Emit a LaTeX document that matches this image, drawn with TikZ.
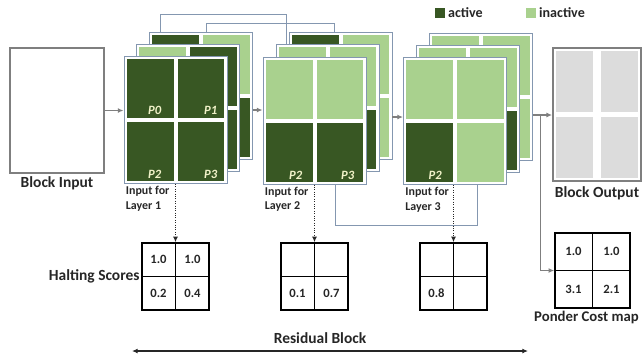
\documentclass[tikz,border=0pt]{standalone}
\usepackage{fontspec}
\setmainfont{Carlito}
\usetikzlibrary{arrows.meta,positioning,calc}
\definecolor{darkg}{HTML}{385723}
\definecolor{lightg}{HTML}{A9D18E}
\definecolor{sheetline}{HTML}{8497B0}
\definecolor{boxline}{HTML}{7F7F7F}
\definecolor{outcell}{HTML}{DCDCDC}
\definecolor{plabel}{HTML}{F0F2C8}
\definecolor{txt}{HTML}{262626}

% one feature-map sheet: name, centre, cell colours TL TR BL BR
\newcommand{\sheet}[6]{%
  \node[sheet] (#1) at (#2) {};
  \fill[#3] ($(#1.north west)+(3,3)$) rectangle ($(#1.center)+(-2,-2)$);
  \fill[#4] ($(#1.north east)+(-3,3)$) rectangle ($(#1.center)+(2,-2)$);
  \fill[#5] ($(#1.south west)+(3,-3)$) rectangle ($(#1.center)+(-2,2)$);
  \fill[#6] ($(#1.south east)+(-3,-3)$) rectangle ($(#1.center)+(2,2)$);
}

\begin{document}
\begin{tikzpicture}[x=0.25mm,y=-0.25mm,>={Latex[length=4pt,width=3.5pt]},
  sheet/.style={draw=sheetline,line width=0.7pt,fill=white,minimum width=25.75mm,minimum height=31.75mm,inner sep=0},
  box/.style={draw=boxline,line width=1.3pt,fill=white,inner sep=0},
  grid/.style={draw=black,line width=1.1pt,minimum size=16.75mm,inner sep=0},
  gridline/.style={draw=black,line width=0.9pt},
  num/.style={font=\fontsize{9}{10}\selectfont\bfseries,text=txt,inner sep=0},
  plab/.style={font=\fontsize{9}{10}\selectfont\bfseries\itshape,text=plabel,inner sep=0,anchor=south east},
  lab/.style={font=\fontsize{11}{13}\selectfont\bfseries,text=txt,inner sep=1pt},
  inlab/.style={font=\fontsize{8.5}{10.5}\selectfont\bfseries,text=txt,align=left,anchor=north west,inner sep=1.5pt},
  flow/.style={->,draw=boxline,line width=0.8pt},
  link/.style={draw=sheetline,line width=0.7pt},
  probe/.style={->,densely dotted,draw=txt,line width=0.7pt},
  key/.style={minimum size=2.4mm,inner sep=0}]
  \useasboundingbox (0,0) rectangle (644,358);

  % legend
  \node[key,fill=darkg] (keya) at (440,13) {};
  \node[lab,right=1pt of keya,font=\fontsize{10}{12}\selectfont\bfseries] (keyat) {active};
  \node[key,fill=lightg] (keyi) at (531,13) {};
  \node[lab,right=1pt of keyi,font=\fontsize{10}{12}\selectfont\bfseries] (keyit) {inactive};

  % block input
  \node[box,minimum width=23.5mm,minimum height=31.25mm] (inbox) at (57,110.5) {};
  \node[lab,below=1pt of inbox] (inboxt) {Block Input};

  % layer 1
  \sheet{s1c}{201,96}{darkg}{lightg}{darkg}{darkg}
  \sheet{s1b}{188,108}{lightg}{darkg}{darkg}{darkg}
  \sheet{s1a}{175.5,120}{darkg}{darkg}{darkg}{darkg}
  \node[plab] (p0) at ($(s1a.center)+(-14,-5)$) {P0};
  \node[plab] (p1) at ($(s1a.east)+(-10,-5)$) {P1};
  \node[plab] (p2) at ($(s1a.south)+(-14,-5)$) {P2};
  \node[plab] (p3) at ($(s1a.south east)+(-10,-5)$) {P3};
  \node[inlab] (in1) at (s1a.south west) {Input for\\Layer 1};

  % layer 2
  \sheet{s2c}{340.5,96}{darkg}{lightg}{lightg}{lightg}
  \sheet{s2b}{327.5,108}{lightg}{lightg}{darkg}{darkg}
  \sheet{s2a}{314.5,120.5}{lightg}{lightg}{darkg}{darkg}
  \node[plab] (q2) at ($(s2a.south)+(-12,-5)$) {P2};
  \node[plab] (q3) at ($(s2a.south east)+(-12,-5)$) {P3};
  \node[inlab] (in2) at (s2a.south west) {Input for\\Layer 2};

  % layer 3
  \sheet{s3c}{481,97}{lightg}{lightg}{lightg}{lightg}
  \sheet{s3b}{468,109}{lightg}{lightg}{darkg}{darkg}
  \sheet{s3a}{455,121}{lightg}{lightg}{darkg}{lightg}
  \node[plab] (r2) at ($(s3a.south)+(-13,-5)$) {P2};
  \node[inlab] (in3) at (s3a.south west) {Input for\\Layer 3};

  % block output
  \node[box,minimum width=22mm,minimum height=33.25mm] (outbox) at (597,114.5) {};
  \fill[outcell] ($(outbox.north west)+(4,4)$) rectangle ($(outbox.center)+(-4,-2.5)$);
  \fill[outcell] ($(outbox.north east)+(-4,4)$) rectangle ($(outbox.center)+(4,-2.5)$);
  \fill[outcell] ($(outbox.south west)+(4,-4)$) rectangle ($(outbox.center)+(-4,2.5)$);
  \fill[outcell] ($(outbox.south east)+(-4,-4)$) rectangle ($(outbox.center)+(4,2.5)$);
  \node[lab,below=2pt of outbox] (outboxt) {Block Output};

  % main flow
  \coordinate (c1) at ($(s1c.east)+(0,14)$);
  \coordinate (c2) at ($(s2c.east)+(0,21)$);
  \coordinate (c3) at ($(s3c.east)+(0,18)$);
  \coordinate (br) at ($(c3)+(7.5,0)$);
  \draw[flow] (inbox.east) -- (inbox.east -| s1a.west);
  \draw[flow] (c1) -- (c1 -| s2a.west);
  \draw[flow] (c2) -- (c2 -| s3a.west);
  \draw[flow] (c3) -- (c3 -| outbox.west);

  % skip links
  \draw[link] ($(s1c.north west)+(11,0)$) -- ++(0,-18) -| ($(s2b.north west)+(11,0)$);
  \draw[link] ($(s1c.north west)+(57,0)$) -- ++(0,-9) -| ($(s2c.north west)+(46,0)$);
  \draw[link] ($(s2a.south)+(21,0)$) -- ++(0,41) -| ($(s3a.south)+(22,0)$);

  % halting scores
  \node[grid] (hs1) at (175.5,276.5) {};
  \node[grid] (hs2) at (314.5,276.5) {};
  \node[grid] (hs3) at (453.5,276.5) {};
  \foreach \g in {hs1,hs2,hs3}
    \draw[gridline] (\g.north) -- (\g.south) (\g.west) -- (\g.east);
  \node[lab,anchor=east] (hsl) at (hs1.west) {Halting Scores};
  \node[num] (h1a) at ($(hs1.center)+(-17,-17)$) {1.0};
  \node[num] (h1b) at ($(hs1.center)+(17,-17)$) {1.0};
  \node[num] (h1c) at ($(hs1.center)+(-17,17)$) {0.2};
  \node[num] (h1d) at ($(hs1.center)+(17,17)$) {0.4};
  \node[num] (h2c) at ($(hs2.center)+(-17,17)$) {0.1};
  \node[num] (h2d) at ($(hs2.center)+(17,17)$) {0.7};
  \node[num] (h3c) at ($(hs3.center)+(-17,17)$) {0.8};
  \draw[probe] (s1a.south) -- (hs1.north);
  \draw[probe] (s2a.south) -- (hs2.north);
  \draw[probe] (s3a.south -| hs3.north) -- (hs3.north);

  % ponder cost
  \node[grid,minimum size=18.75mm] (pcm) at (592.5,270.5) {};
  \draw[gridline] (pcm.north) -- (pcm.south) (pcm.west) -- (pcm.east);
  \node[num] (pc1) at ($(pcm.center)+(-19,-19)$) {1.0};
  \node[num] (pc2) at ($(pcm.center)+(19,-19)$) {1.0};
  \node[num] (pc3) at ($(pcm.center)+(-19,19)$) {3.1};
  \node[num] (pc4) at ($(pcm.center)+(19,19)$) {2.1};
  \node[lab,anchor=north,font=\fontsize{10.5}{12}\selectfont\bfseries] (pcmt) at ($(pcm.south)+(-6,1)$) {Ponder Cost map};
  \draw[flow] (br) |- (pcm.west);

  % residual block span
  \coordinate (rl) at (132,351);
  \coordinate (rr) at (528,351);
  \draw[<->,draw=txt,line width=0.8pt] (rl) -- (rr);
  \node[lab] (res) at (320,338) {Residual Block};
\end{tikzpicture}
\end{document}
